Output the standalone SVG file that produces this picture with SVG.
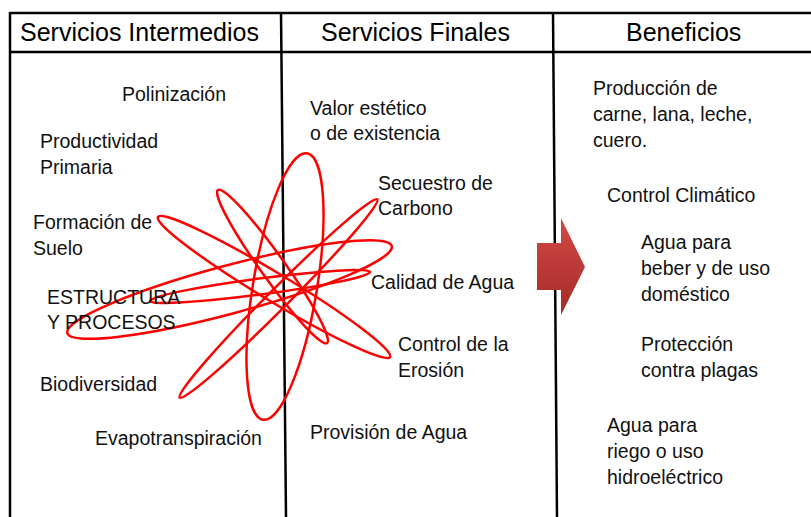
<svg xmlns="http://www.w3.org/2000/svg" width="811" height="517" viewBox="0 0 811 517">
  <defs>
    <linearGradient id="arrowGrad" x1="0" y1="0" x2="0" y2="1">
      <stop offset="0" stop-color="#d24a46"/>
      <stop offset="1" stop-color="#a42a28"/>
    </linearGradient>
    <style>
      .grid { stroke: #000; stroke-width: 2.5; fill: none; }
      .hdr { font-family: "Liberation Sans", Arial, sans-serif; font-size: 25px; fill: #000; }
      .t { font-family: "Liberation Sans", Arial, sans-serif; font-size: 19.5px; fill: #111; }
      .loop { fill: none; stroke: #ff0000; stroke-width: 2.5; }
    </style>
  </defs>
  <rect width="811" height="517" fill="#fff"/>

  <g id="table">
    <line class="grid" x1="10" y1="13" x2="811" y2="13"/>
    <line class="grid" x1="10" y1="52" x2="811" y2="52"/>
    <line class="grid" x1="10" y1="12" x2="10" y2="517"/>
    <line class="grid" x1="281" y1="12" x2="286" y2="517"/>
    <line class="grid" x1="553" y1="12" x2="557" y2="517"/>
  </g>

  <g id="headers">
    <text class="hdr" x="20" y="41">Servicios Intermedios</text>
    <text class="hdr" x="321" y="41">Servicios Finales</text>
    <text class="hdr" x="626" y="41">Beneficios</text>
  </g>

  <g id="connectors">
    <ellipse class="loop" cx="285" cy="286.5" rx="135" ry="32" transform="rotate(-80.6 285 286.5)"/>
    <ellipse class="loop" cx="272.5" cy="266.5" rx="94" ry="12" transform="rotate(54.5 272.5 266.5)"/>
    <ellipse class="loop" cx="274" cy="287" rx="135.5" ry="14" transform="rotate(31.1 274 287)"/>
    <ellipse class="loop" cx="278.5" cy="298.5" rx="140" ry="10" transform="rotate(-45.1 278.5 298.5)"/>
    <ellipse class="loop" cx="229.5" cy="289.5" rx="168" ry="24" transform="rotate(-15 229.5 289.5)"/>
    <ellipse class="loop" cx="260" cy="286.5" rx="111" ry="8" transform="rotate(-7.5 260 286.5)"/>
  </g>

  <g id="col1">
    <g id="polinizacion"><text class="t" x="122" y="101">Polinización</text></g>
    <g id="productividad"><text class="t" x="40" y="148">Productividad</text><text class="t" x="40" y="174">Primaria</text></g>
    <g id="formacion"><text class="t" x="33" y="229">Formación de</text><text class="t" x="33" y="255">Suelo</text></g>
    <g id="estructura"><text class="t" x="47" y="304">ESTRUCTURA</text><text class="t" x="47" y="329">Y PROCESOS</text></g>
    <g id="biodiversidad"><text class="t" x="40" y="391">Biodiversidad</text></g>
    <g id="evapo"><text class="t" x="95" y="445">Evapotranspiración</text></g>
  </g>

  <g id="col2">
    <g id="valor"><text class="t" x="310" y="115">Valor estético</text><text class="t" x="310" y="140">o de existencia</text></g>
    <g id="secuestro"><text class="t" x="378" y="190">Secuestro de</text><text class="t" x="378" y="215">Carbono</text></g>
    <g id="calidad"><text class="t" x="371" y="289">Calidad de Agua</text></g>
    <g id="erosion"><text class="t" x="398" y="351">Control de la</text><text class="t" x="398" y="377">Erosión</text></g>
    <g id="provision"><text class="t" x="310" y="439">Provisión de Agua</text></g>
  </g>

  <g id="col3">
    <g id="produccion"><text class="t" x="593" y="95">Producción de</text><text class="t" x="593" y="121">carne, lana, leche,</text><text class="t" x="593" y="147">cuero.</text></g>
    <g id="clima"><text class="t" x="607" y="202">Control Climático</text></g>
    <g id="agua-beber"><text class="t" x="641" y="249">Agua para</text><text class="t" x="641" y="275">beber y de uso</text><text class="t" x="641" y="301">doméstico</text></g>
    <g id="plagas"><text class="t" x="641" y="351">Protección</text><text class="t" x="641" y="377">contra plagas</text></g>
    <g id="agua-riego"><text class="t" x="607" y="432">Agua para</text><text class="t" x="607" y="458">riego o uso</text><text class="t" x="607" y="484">hidroeléctrico</text></g>
  </g>

  <g id="arrow">
    <polygon points="537,243 561,243 561,218 585,267 561,315 561,290 537,290" fill="url(#arrowGrad)"/>
  </g>
</svg>
